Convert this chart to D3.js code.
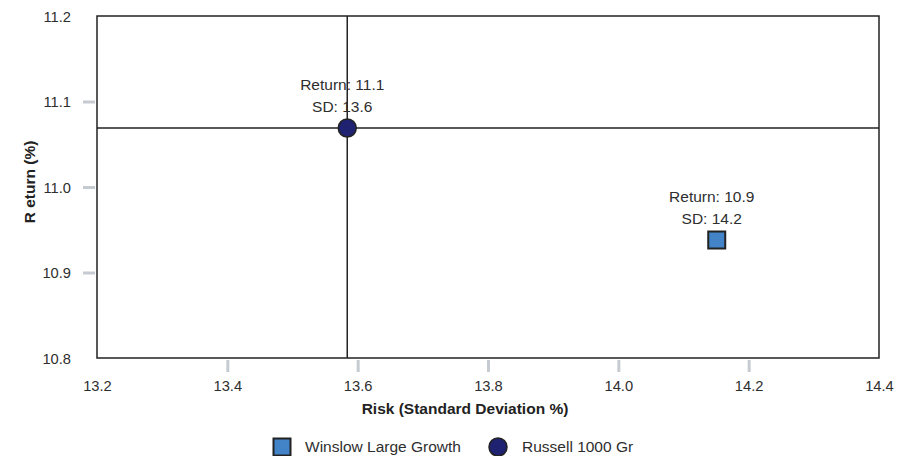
<!DOCTYPE html>
<html>
<head>
<meta charset="utf-8">
<script src="https://cdn.jsdelivr.net/npm/d3@7"></script>
<style>
  html, body { margin: 0; padding: 0; background: #fff; }
  svg { display: block; font-family: "Liberation Sans", Arial, Helvetica, sans-serif; }
</style>
</head>
<body>
<svg id="chart" width="909" height="456"></svg>
<script>
// Risk / return scatter: two portfolios, with crosshairs through the benchmark.
const seriesNames = ["Winslow Large Growth", "Russell 1000 Gr"];
const riskValues = [14.151, 13.584];      // standard deviation, %
const returnValues = [10.938, 11.069];    // annualised return, %
const seriesShapes = ["square", "circle"];
const seriesColors = ["#4384c8", "#1f2270"];
const xTicks = [13.2, 13.4, 13.6, 13.8, 14.0, 14.2, 14.4];
const yTicks = [10.8, 10.9, 11.0, 11.1, 11.2];
const benchmarkIndex = 1;

const svg = d3.select("#chart");
const margin = { left: 97, right: 30, top: 16, bottom: 98 };
const W = 909, H = 456;
const x = d3.scaleLinear().domain([13.2, 14.4]).range([margin.left, W - margin.right]);
const y = d3.scaleLinear().domain([10.8, 11.2]).range([H - margin.bottom, margin.top]);

const fmt = d3.format(".1f");
const textColor = "#2e2e2e";
const tickColor = "#c6cbd1";
const tickFont = 14.7;
const labelFont = 15.5;

// plot frame
svg.append("rect")
  .attr("x", x.range()[0]).attr("y", y.range()[1])
  .attr("width", x.range()[1] - x.range()[0])
  .attr("height", y.range()[0] - y.range()[1])
  .attr("fill", "none").attr("stroke", "#222").attr("stroke-width", 1.5);

// x axis: gray ticks on inner values, labels on all
const xAxis = d3.axisBottom(x).tickValues(xTicks).tickFormat(fmt).tickSize(0).tickPadding(0);
const gx = svg.append("g").attr("transform", `translate(0,${y.range()[0]})`).call(xAxis);
gx.select(".domain").remove();
gx.selectAll(".tick text").attr("dy", null).attr("y", 33)
  .attr("font-size", tickFont).attr("fill", textColor).attr("font-family", null);
gx.selectAll(".tick").filter((d, i) => i > 0 && i < xTicks.length - 1)
  .append("line").attr("y1", 2).attr("y2", 14)
  .attr("stroke", tickColor).attr("stroke-width", 3);

// y axis
const yAxis = d3.axisLeft(y).tickValues(yTicks).tickFormat(fmt).tickSize(0).tickPadding(0);
const gy = svg.append("g").attr("transform", `translate(${x.range()[0]},0)`).call(yAxis);
gy.select(".domain").remove();
gy.selectAll(".tick text").attr("x", -26).attr("dy", "0.35em")
  .attr("font-size", tickFont).attr("fill", textColor).attr("font-family", null);
gy.selectAll(".tick").filter((d, i) => i > 0 && i < yTicks.length - 1)
  .append("line").attr("x1", -14).attr("x2", -2)
  .attr("stroke", tickColor).attr("stroke-width", 3);

// axis titles
svg.append("text")
  .attr("x", 465).attr("y", 414)
  .attr("text-anchor", "middle").attr("font-size", 15.5).attr("font-weight", "bold")
  .attr("fill", "#222").text("Risk (Standard Deviation %)");
svg.append("text")
  .attr("transform", "translate(35,182) rotate(-90)")
  .attr("text-anchor", "middle").attr("font-size", 15.5).attr("font-weight", "bold")
  .attr("fill", "#222").text("R eturn (%)");

// crosshairs through the benchmark
const bx = x(riskValues[benchmarkIndex]), by = y(returnValues[benchmarkIndex]);
svg.append("line").attr("x1", bx).attr("x2", bx).attr("y1", y.range()[1]).attr("y2", y.range()[0])
  .attr("stroke", "#222").attr("stroke-width", 1.5);
svg.append("line").attr("x1", x.range()[0]).attr("x2", x.range()[1]).attr("y1", by).attr("y2", by)
  .attr("stroke", "#222").attr("stroke-width", 1.5);

// points
const points = seriesNames.map((name, i) => ({
  name, risk: riskValues[i], ret: returnValues[i], shape: seriesShapes[i], color: seriesColors[i]
}));

function drawMarker(g, shape, color, size) {
  if (shape === "square") {
    g.append("rect").attr("x", -size / 2).attr("y", -size / 2)
      .attr("width", size).attr("height", size)
      .attr("fill", color).attr("stroke", "#222").attr("stroke-width", 2);
  } else {
    g.append("circle").attr("r", size / 2)
      .attr("fill", color).attr("stroke", "#222").attr("stroke-width", 1.5);
  }
}

points.forEach(p => {
  const g = svg.append("g").attr("transform", `translate(${x(p.risk)},${y(p.ret)})`);
  drawMarker(g, p.shape, p.color, p.shape === "square" ? 17 : 18);
  g.append("text").attr("x", -5).attr("y", -38).attr("text-anchor", "middle")
    .attr("font-size", labelFont).attr("fill", textColor).text(`Return: ${fmt(p.ret)}`);
  g.append("text").attr("x", -5).attr("y", -16).attr("text-anchor", "middle")
    .attr("font-size", labelFont).attr("fill", textColor).text(`SD: ${fmt(p.risk)}`);
});

// legend
const legendX = [282, 498];
points.forEach((p, i) => {
  const g = svg.append("g").attr("transform", `translate(${legendX[i]},447)`);
  drawMarker(g, p.shape, p.color, p.shape === "square" ? 17 : 18);
  g.append("text").attr("x", i === 0 ? 23 : 24).attr("dy", "0.35em")
    .attr("font-size", labelFont).attr("fill", textColor).text(p.name);
});
</script>
</body>
</html>
